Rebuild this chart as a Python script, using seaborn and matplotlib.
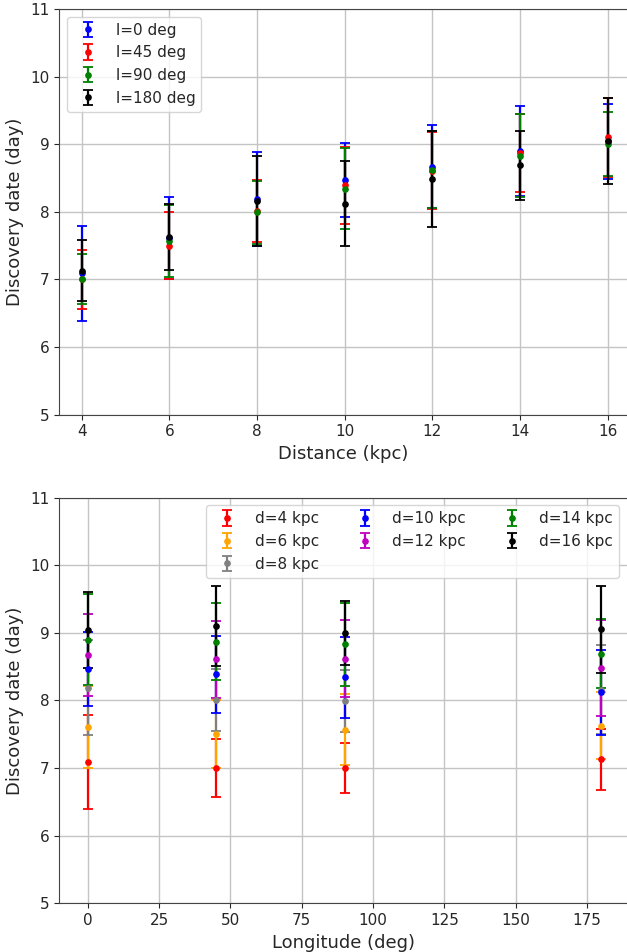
import matplotlib
matplotlib.use("Agg")
import matplotlib.pyplot as plt
import seaborn as sns
import numpy as np

# ---- data ----
distances = [4, 6, 8, 10, 12, 14, 16]          # kpc
longitudes = [0, 45, 90, 180]                  # deg

mean_l0 = [7.09, 7.61, 8.19, 8.47, 8.67, 8.90, 9.04]
err_l0 = [0.70, 0.61, 0.70, 0.55, 0.61, 0.67, 0.56]
mean_l45 = [7.00, 7.50, 8.01, 8.39, 8.61, 8.87, 9.10]
err_l45 = [0.43, 0.50, 0.46, 0.57, 0.57, 0.57, 0.59]
mean_l90 = [7.00, 7.57, 7.99, 8.34, 8.62, 8.83, 9.00]
err_l90 = [0.37, 0.53, 0.46, 0.60, 0.57, 0.61, 0.47]
mean_l180 = [7.13, 7.63, 8.16, 8.12, 8.48, 8.69, 9.05]
err_l180 = [0.45, 0.49, 0.66, 0.63, 0.71, 0.51, 0.64]

long_labels = ["l=0 deg", "l=45 deg", "l=90 deg", "l=180 deg"]
dist_labels = ["d=4 kpc", "d=6 kpc", "d=8 kpc", "d=10 kpc", "d=12 kpc", "d=14 kpc", "d=16 kpc"]

long_colors = ["blue", "red", "green", "black"]
dist_colors = ["red", "orange", "gray", "blue", "m", "green", "black"]

# ---- style ----
sns.set_style("ticks")
plt.rcParams["font.family"] = ["DejaVu Sans"]
plt.rcParams["font.size"] = 11

means = np.array([mean_l0, mean_l45, mean_l90, mean_l180])
errs = np.array([err_l0, err_l45, err_l90, err_l180])

fig = plt.figure(figsize=(6.27, 9.52), dpi=100)
ax1 = fig.add_axes([0.0941, 0.5644, 0.9059, 0.4262])
ax2 = fig.add_axes([0.0941, 0.0511, 0.9059, 0.4262])

eb_kw = dict(fmt="o", ms=3.8, capsize=3.3, elinewidth=1.6, capthick=1.3)

for i, lab in enumerate(long_labels):
    ax1.errorbar(distances, means[i], yerr=errs[i], color=long_colors[i],
                 label=lab, **eb_kw)
ax1.set_xlim(3.48, 16.44)
ax1.set_ylim(5, 11)
ax1.set_xticks([4, 6, 8, 10, 12, 14, 16])
ax1.set_yticks([5, 6, 7, 8, 9, 10, 11])
ax1.set_xlabel("Distance (kpc)", fontsize=13)
ax1.set_ylabel("Discovery date (day)", fontsize=13)
ax1.grid(True, color="#c4c4c4", linewidth=1)
ax1.legend(loc="upper left", fontsize=11, framealpha=0.8)

for j, lab in enumerate(dist_labels):
    ax2.errorbar(longitudes, means[:, j], yerr=errs[:, j], color=dist_colors[j],
                 label=lab, **eb_kw)
ax2.set_xlim(-10.06, 189.0)
ax2.set_ylim(5, 11)
ax2.set_xticks([0, 25, 50, 75, 100, 125, 150, 175])
ax2.set_yticks([5, 6, 7, 8, 9, 10, 11])
ax2.set_xlabel("Longitude (deg)", fontsize=13)
ax2.set_ylabel("Discovery date (day)", fontsize=13)
ax2.grid(True, color="#c4c4c4", linewidth=1)
ax2.legend(loc="upper right", ncol=3, fontsize=11, framealpha=0.8)

for ax in (ax1, ax2):
    ax.spines["right"].set_visible(False)
    ax.set_axisbelow(True)
    ax.tick_params(labelsize=11)
    for s in ("left", "bottom", "top"):
        ax.spines[s].set_color("#444444")

fig.savefig("out.png", dpi=100)
